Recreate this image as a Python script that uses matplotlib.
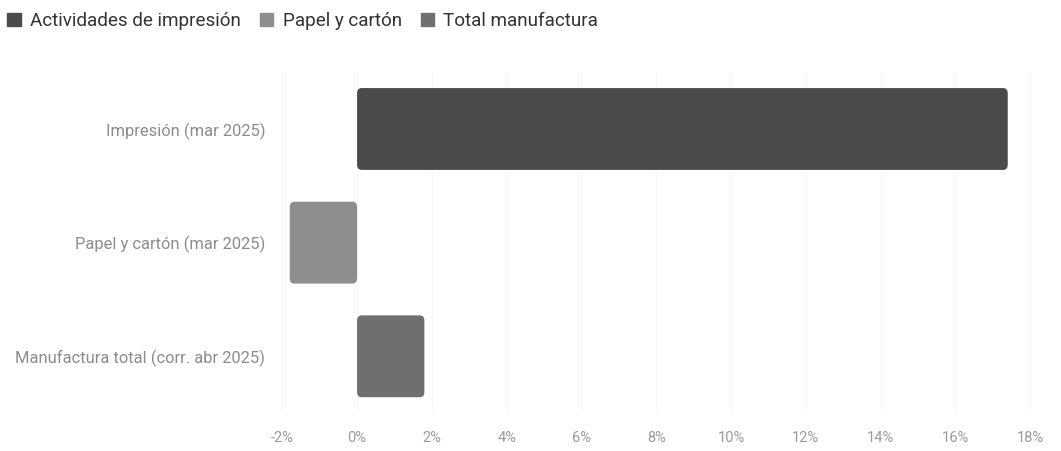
import matplotlib
matplotlib.use("Agg")
import matplotlib.pyplot as plt
import matplotlib.patches as mpatches
from matplotlib.patches import FancyBboxPatch

plt.rcParams["font.family"] = ["Roboto", "DejaVu Sans"]

# ── data ─────────────────────────────────────────────────────────────────────
categories = ["Impresión (mar 2025)", "Papel y cartón (mar 2025)",
              "Manufactura total (corr. abr 2025)"]
values = [17.4, -1.8, 1.8]
series = ["Actividades de impresión", "Papel y cartón", "Total manufactura"]
colors = ["#4b4b4b", "#8e8e8e", "#6f6f6f"]
xticks = [-2, 0, 2, 4, 6, 8, 10, 12, 14, 16, 18]

# ── figure ───────────────────────────────────────────────────────────────────
fig = plt.figure(figsize=(10.61, 4.51), dpi=100)
ax = fig.add_axes([0.259, 0.084, 0.719, 0.756])

ypos = list(range(len(categories)))
bars = ax.barh(ypos, values, height=0.72, color=colors)

# swap plain bars for slightly rounded ones
for b, c in zip(bars, colors):
    b.set_visible(False)
    x0 = min(b.get_x(), b.get_x() + b.get_width())
    w = abs(b.get_width())
    rb = FancyBboxPatch((x0, b.get_y()), w, b.get_height(),
                        boxstyle="round,pad=0,rounding_size=0.12",
                        mutation_aspect=0.4, facecolor=c, edgecolor="none")
    ax.add_patch(rb)

ax.set_xlim(-2.2, 18.2)
ax.set_ylim(2.5, -0.5)
ax.set_yticks(ypos)
ax.set_yticklabels(categories, fontsize=11.9, color="#8c8c8c")
ax.set_xticks(xticks)
ax.set_xticklabels([f"{t}%" for t in xticks], fontsize=10.5, color="#9a9a9a")
ax.tick_params(axis="both", length=0)
ax.tick_params(axis="x", pad=13)
ax.tick_params(axis="y", pad=7)
for s in ax.spines.values():
    s.set_visible(False)
ax.grid(axis="x", color="#f7f7f7", linewidth=0.8)
ax.set_axisbelow(True)

handles = [mpatches.Patch(color=c, label=s) for s, c in zip(series, colors)]
fig.legend(handles=handles, loc="upper left", bbox_to_anchor=(-0.009, 1.01),
           ncol=3, frameon=False, fontsize=13.6, handlelength=0.7,
           handleheight=0.7, handletextpad=0.5, columnspacing=1.0,
           labelcolor="#333333")

fig.savefig("out.png", dpi=100)
